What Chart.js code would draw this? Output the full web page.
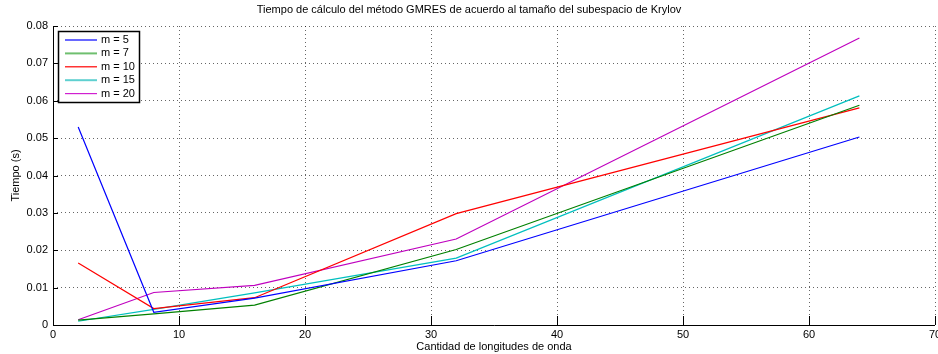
<!DOCTYPE html>
<html>
<head>
<meta charset="utf-8">
<script src="https://cdn.jsdelivr.net/npm/chart.js@4/dist/chart.umd.min.js"></script>
<style>
  html, body { margin: 0; padding: 0; background: #fff; }
  #wrap { width: 938px; height: 354px; }
</style>
</head>
<body>
<div id="wrap"><canvas id="timeChart"></canvas></div>
<script>
// wavelengths count (x) and time in seconds per Krylov subspace size
const waves = [2, 8, 16, 32, 64];
const labels = ['m = 5', 'm = 7', 'm = 10', 'm = 15', 'm = 20'];
const colors = ['#0000ff', '#008000', '#ff0000', '#00bfbf', '#bf00bf'];
const legendColors = ['#0000ff', '#6fbf6f', '#ff0000', '#5fd0d0', '#d020d0'];
const m5 = [0.0530, 0.0034, 0.0072, 0.0172, 0.0503];
const m7 = [0.0013, 0.0030, 0.0053, 0.0202, 0.0588];
const m10 = [0.0166, 0.0044, 0.0073, 0.0298, 0.0581];
const m15 = [0.0010, 0.0042, 0.0086, 0.0179, 0.0613];
const m20 = [0.0014, 0.0087, 0.0106, 0.0230, 0.0768];
const xTicks = [0, 10, 20, 30, 40, 50, 60, 70];
const yTicks = [0, 0.01, 0.02, 0.03, 0.04, 0.05, 0.06, 0.07, 0.08];

const FONT = 'Liberation Sans, Arial, Helvetica, sans-serif';
const series = [m5, m7, m10, m15, m20];

// MATLAB-like inward ticks + legend box inside the axes
const matlabPlugin = {
    id: 'matlab',
    afterDatasetsDraw(chart) {
        const c = chart.ctx;
        const a = chart.chartArea;
        const xs = chart.scales.x, ys = chart.scales.y;
        c.save();
        c.strokeStyle = '#000';
        c.lineWidth = 1;
        c.beginPath();
        c.moveTo(a.left + 0.5, a.top);
        c.lineTo(a.left + 0.5, a.bottom + 0.5);
        c.lineTo(a.right, a.bottom + 0.5);
        xTicks.forEach(v => {
            const px = Math.round(xs.getPixelForValue(v)) + 0.5;
            c.moveTo(px, a.bottom);
            c.lineTo(px, a.bottom - 9);
        });
        yTicks.forEach(v => {
            const py = Math.round(ys.getPixelForValue(v)) + 0.5;
            c.moveTo(a.left, py);
            c.lineTo(a.left + 5, py);
        });
        c.stroke();

        // legend
        const bx = a.left + 5, by = a.top + 5, bw = 81, bh = 71;
        c.fillStyle = '#fff';
        c.fillRect(bx, by, bw, bh);
        c.lineWidth = 1.5;
        c.strokeRect(bx + 0.5, by + 0.5, bw, bh);
        c.font = '11px ' + FONT;
        c.textBaseline = 'middle';
        labels.forEach((lab, i) => {
            const y = by + 9 + i * 13.4;
            c.strokeStyle = legendColors[i];
            c.lineWidth = i === 1 || i === 3 ? 2 : 1.2;
            c.beginPath();
            c.moveTo(bx + 7, y);
            c.lineTo(bx + 39, y);
            c.stroke();
            c.fillStyle = '#000';
            c.fillText(lab, bx + 43, y);
        });
        c.restore();
    }
};

const ctx = document.getElementById('timeChart');
new Chart(ctx.getContext('2d'), {
    type: 'line',
    data: {
        datasets: series.map((s, i) => ({
            label: labels[i],
            data: waves.map((w, j) => ({ x: w, y: s[j] })),
            borderColor: colors[i],
            backgroundColor: colors[i],
            borderWidth: 1.2,
            pointRadius: 0,
            tension: 0,
            fill: false
        }))
    },
    options: {
        responsive: true,
        maintainAspectRatio: false,
        animation: false,
        layout: { padding: { left: 0, right: 0, top: 0, bottom: 0 } },
        plugins: {
            legend: { display: false },
            tooltip: { enabled: false },
            title: {
                display: true,
                text: 'Tiempo de cálculo del método GMRES de acuerdo al tamaño del subespacio de Krylov',
                color: '#000',
                font: { family: FONT, size: 11, weight: 'normal' },
                padding: { top: 3, bottom: 9.8 }
            }
        },
        scales: {
            x: {
                type: 'linear',
                min: 0,
                max: 70,
                afterBuildTicks: s => { s.ticks = xTicks.map(v => ({ value: v })); },
                afterFit: s => { s.height = 29; s.paddingRight = 3; s.paddingLeft = 0; },
                border: { display: false, dash: [1, 3] },
                grid: {
                    color: 'rgba(0,0,0,0.6)',
                    drawTicks: false
                },
                ticks: {
                    color: '#000',
                    padding: 3,
                    font: { family: FONT, size: 11 }
                },
                title: {
                    display: true,
                    text: 'Cantidad de longitudes de onda',
                    color: '#000',
                    font: { family: FONT, size: 11 },
                    padding: { top: 0, bottom: 0 }
                }
            },
            y: {
                type: 'linear',
                min: 0,
                max: 0.08,
                afterBuildTicks: s => { s.ticks = yTicks.map(v => ({ value: v })); },
                afterFit: s => { s.width = 53; s.paddingTop = 0; s.paddingBottom = 0; },
                border: { display: false, dash: [1, 3] },
                grid: {
                    color: 'rgba(0,0,0,0.6)',
                    drawTicks: false
                },
                ticks: {
                    color: '#000',
                    padding: 5,
                    font: { family: FONT, size: 11 },
                    callback: v => v === 0 ? '0' : v.toFixed(2)
                },
                title: {
                    display: true,
                    text: 'Tiempo (s)',
                    color: '#000',
                    font: { family: FONT, size: 11 },
                    padding: { top: 9, bottom: 4 }
                }
            }
        }
    },
    plugins: [matlabPlugin]
});
</script>
</body>
</html>
